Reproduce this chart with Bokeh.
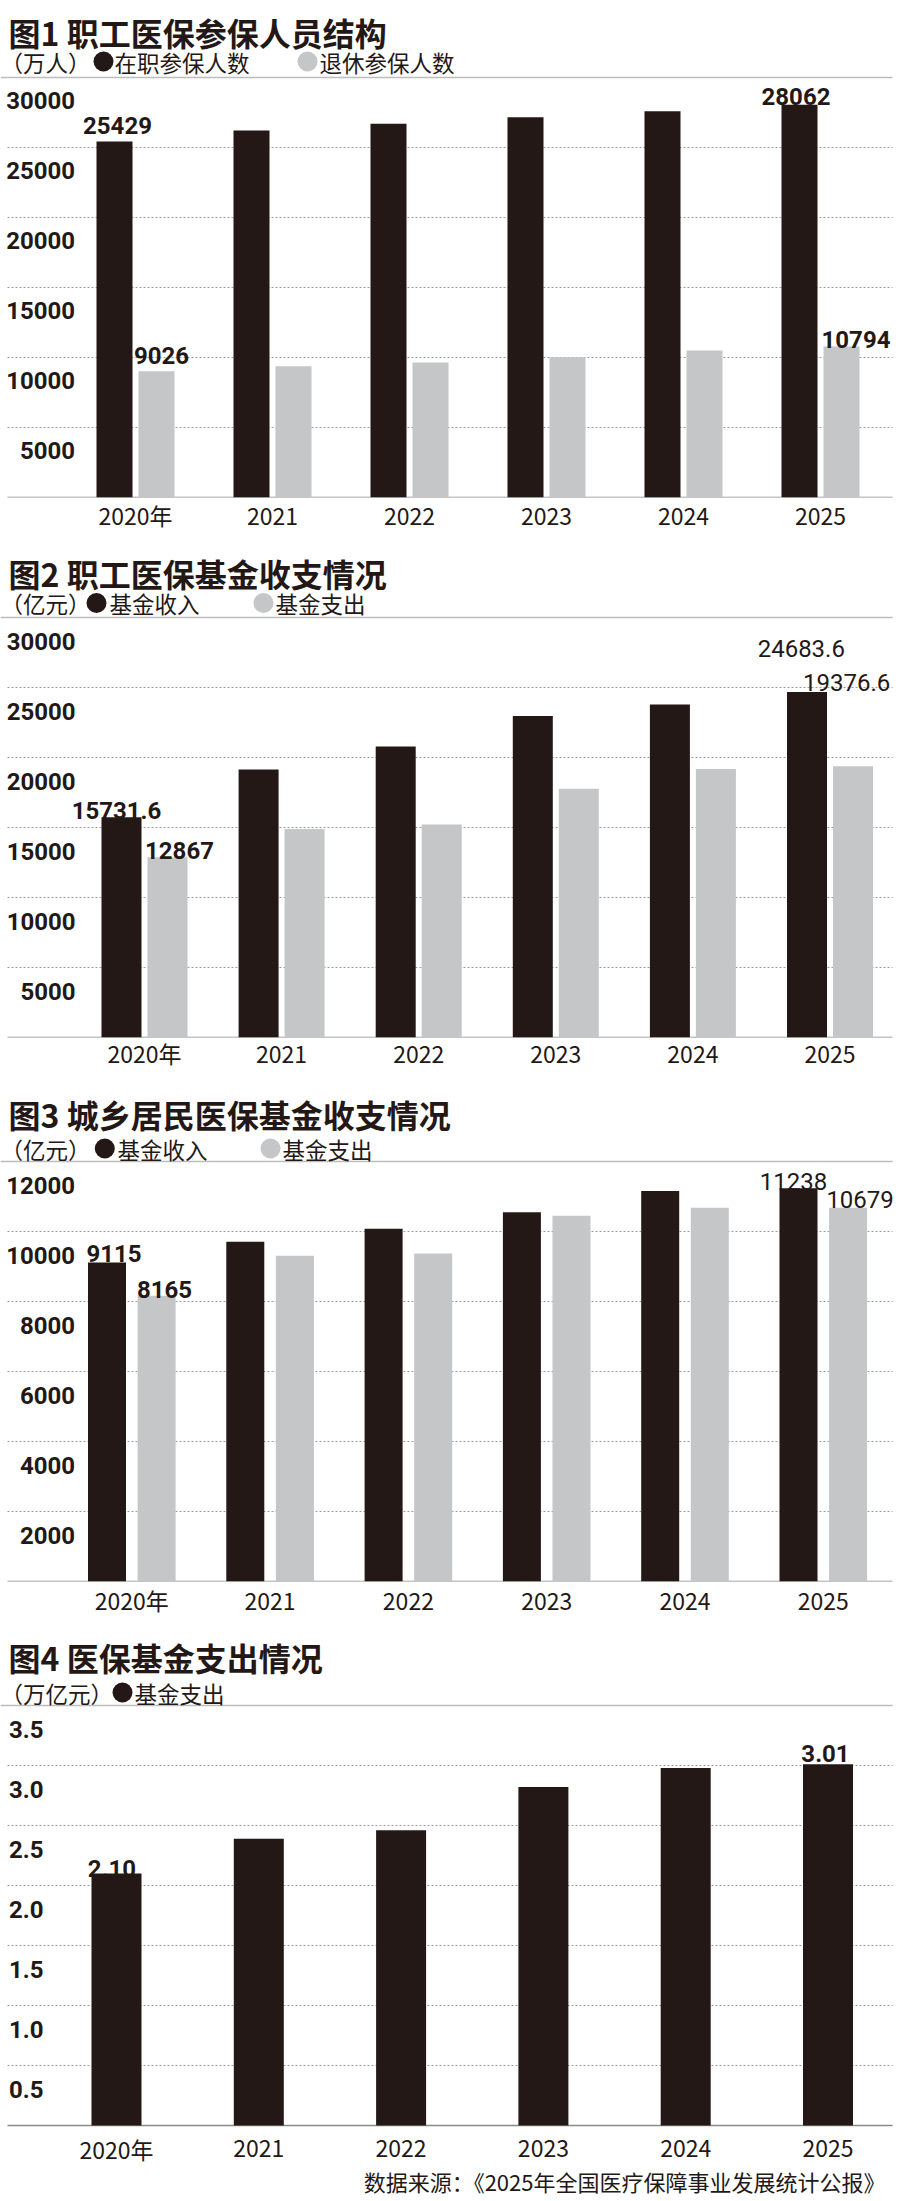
from bokeh.plotting import figure
from bokeh.models import Range1d, FixedTicker
from bokeh.layouts import column
from bokeh.embed import file_html
from bokeh.resources import INLINE
from bokeh.core.properties import value
from bokeh.transform import dodge

# ---------------- data ----------------
years = ["2020年", "2021", "2022", "2023", "2024", "2025"]

# 图1 职工医保参保人员结构 (万人)
c1_active = [25429, 26220, 26700, 27160, 27590, 28062]
c1_retired = [9026, 9380, 9645, 10010, 10500, 10794]
c1_ticks = [5000, 10000, 15000, 20000, 25000, 30000]
c1_tick_labels = ["5000", "10000", "15000", "20000", "25000", "30000"]

# 图2 职工医保基金收支情况 (亿元)
c2_income = [15731.6, 19140, 20790, 22960, 23790, 24683.6]
c2_expense = [12867, 14890, 15210, 17760, 19170, 19376.6]
c2_ticks = [5000, 10000, 15000, 20000, 25000, 30000]
c2_tick_labels = ["5000", "10000", "15000", "20000", "25000", "30000"]

# 图3 城乡居民医保基金收支情况 (亿元)
c3_income = [9115, 9710, 10080, 10550, 11160, 11238]
c3_expense = [8165, 9310, 9370, 10450, 10680, 10679]
c3_ticks = [2000, 4000, 6000, 8000, 10000, 12000]
c3_tick_labels = ["2000", "4000", "6000", "8000", "10000", "12000"]

# 图4 医保基金支出情况 (万亿元)
c4_expense = [2.10, 2.39, 2.46, 2.82, 2.98, 3.01]
c4_ticks = [0.5, 1.0, 1.5, 2.0, 2.5, 3.0, 3.5]
c4_tick_labels = ["0.5", "1.0", "1.5", "2.0", "2.5", "3.0", "3.5"]

source_note = "数据来源：《2025年全国医疗保障事业发展统计公报》"

# ---------------- style ----------------
INK = "#231815"
GRAY = "#c5c6c8"
CJK = "Noto Sans CJK SC"
NUM = "Roboto"
idx = list(range(len(years)))


class Chart:
    """One chart panel. Page-pixel layout constants -> data coordinates."""

    def __init__(self, F, H, top_px, base_px, ymax, c0_px, spacing, bottom, axis=True, standoff=0):
        self.F, self.H, self.top_px, self.base_px = F, H, top_px, base_px
        self.ymax, self.c0_px, self.spacing = ymax, c0_px, spacing
        self.u = ymax / (base_px - top_px)
        frame_bottom = F + H - bottom
        ys = -(frame_bottom - base_px) * self.u
        ye = (base_px - F) * self.u
        xs = -c0_px / spacing
        xe = xs + 900 / spacing
        p = figure(width=900, height=H, x_range=Range1d(xs, xe), y_range=Range1d(ys, ye),
                   output_backend="svg", toolbar_location=None, title=None,
                   y_axis_location=None, x_axis_location="below" if axis else None,
                   min_border_left=0, min_border_right=0, min_border_top=0,
                   min_border_bottom=bottom)
        p.outline_line_color = None
        p.background_fill_color = "white"
        p.border_fill_color = "white"
        p.grid.visible = False
        if axis:
            ax = p.xaxis[0]
            ax.ticker = FixedTicker(ticks=idx)
            ax.major_label_overrides = {i: y for i, y in zip(idx, years)}
            ax.major_tick_line_color = None
            ax.minor_tick_line_color = None
            ax.major_tick_out = 0
            ax.axis_line_color = None
            ax.major_label_text_font = CJK
            ax.major_label_text_font_size = "23px"
            ax.major_label_text_color = INK
            ax.major_label_standoff = standoff
        self.p = p

    def xd(self, px):
        return (px - self.c0_px) / self.spacing

    def yd(self, py):
        return (self.base_px - py) * self.u

    def frame_lines(self, ticks, tick_labels, label_right, drop):
        p = self.p
        inner = [t for t in ticks if t < self.ymax]
        n = len(inner)
        p.segment(x0=[self.xd(7)] * n, x1=[self.xd(892)] * n, y0=inner, y1=inner,
                  line_color="#9c9c9c", line_width=1, line_dash="2 2")
        p.segment(x0=[self.xd(0)], x1=[self.xd(892)], y0=[self.ymax], y1=[self.ymax],
                  line_color="#bdbdbd", line_width=1.5)
        p.segment(x0=[self.xd(7)], x1=[self.xd(892)], y0=[0], y1=[0],
                  line_color="#8a8a8a", line_width=1.5)
        p.text(x=[self.xd(label_right)] * len(ticks), y=ticks, text=tick_labels,
               y_offset=drop, text_align="right", text_baseline="alphabetic",
               text_font=value(NUM), text_font_style="bold", text_font_size="24px",
               text_color=INK)

    def cjk(self, px, py, text, size, style="normal", align="left"):
        self.p.text(x=[self.xd(px)], y=[self.yd(py)], text=[text], text_font=value(CJK),
                    text_font_style=style, text_font_size=f"{size}px", text_align=align,
                    text_baseline="middle", text_color=INK)

    def header(self, title, title_py, unit, leg_py, items):
        self.cjk(8, title_py, title, 32, style="bold")
        self.cjk(0, leg_py, unit, 22.5)
        for dot_cx, color, text_x, text in items:
            self.p.scatter(x=[self.xd(dot_cx)], y=[self.yd(leg_py)], size=20, marker="circle",
                           fill_color=color, line_color=None)
            self.cjk(text_x, leg_py, text, 22.5)


def value_label(p, x, y, text, dx, dy, style="bold"):
    p.text(x=[x], y=[y], text=[text], x_offset=dx, y_offset=dy,
           text_align="center", text_baseline="alphabetic",
           text_font=value(NUM), text_font_style=style, text_font_size="24px",
           text_color=INK)


# ---------------- chart 1 ----------------
ch1 = Chart(F=0, H=540, top_px=77, base_px=497, ymax=30000, c0_px=135, spacing=137,
            bottom=43, standoff=0)
ch1.frame_lines(c1_ticks, c1_tick_labels, 74.5, 23)
ch1.header("图1 职工医保参保人员结构", 31.5, "（万人）", 61,
           [(103, INK, 114, "在职参保人数"), (307, GRAY, 319, "退休参保人数")])
p1 = ch1.p
bw1, off1 = 36 / 137, 21 / 137
src1 = dict(x=idx, a=c1_active, b=c1_retired)
p1.vbar(x=dodge("x", -off1), top="a", width=bw1, source=src1, fill_color=INK, line_color=None)
p1.vbar(x=dodge("x", off1), top="b", width=bw1, source=src1, fill_color=GRAY, line_color=None)
value_label(p1, idx[0] - off1, c1_active[0], f"{c1_active[0]}", 3, -16)
value_label(p1, idx[0] + off1, c1_retired[0], f"{c1_retired[0]}", 5, -16)
value_label(p1, idx[-1] - off1, c1_active[-1], f"{c1_active[-1]}", -3.5, -8)
value_label(p1, idx[-1] + off1, c1_retired[-1], f"{c1_retired[-1]}", 14.5, -7)

# ---------------- chart 2 ----------------
ch2 = Chart(F=540, H=545, top_px=617, base_px=1037, ymax=30000, c0_px=144, spacing=137.1,
            bottom=48, standoff=-2)
ch2.frame_lines(c2_ticks, c2_tick_labels, 75, 24)
ch2.header("图2 职工医保基金收支情况", 572.5, "（亿元）", 602.5,
           [(96, INK, 109, "基金收入"), (263, GRAY, 275, "基金支出")])
p2 = ch2.p
bw2, off2 = 40 / 137.1, 23 / 137.1
src2 = dict(x=idx, a=c2_income, b=c2_expense)
p2.vbar(x=dodge("x", -off2), top="a", width=bw2, source=src2, fill_color=INK, line_color=None)
p2.vbar(x=dodge("x", off2), top="b", width=bw2, source=src2, fill_color=GRAY, line_color=None)
value_label(p2, idx[0] - off2, c2_income[0], f"{c2_income[0]:g}", -5, -6.5)
value_label(p2, idx[0] + off2, c2_expense[0], f"{c2_expense[0]:g}", 12, -6.6)
value_label(p2, idx[-1] - off2, c2_income[-1], f"{c2_income[-1]:g}", -5.7, -43, style="normal")
value_label(p2, idx[-1] + off2, c2_expense[-1], f"{c2_expense[-1]:g}", -6.3, -83.7, style="normal")

# ---------------- chart 3 ----------------
ch3 = Chart(F=1085, H=540, top_px=1161, base_px=1581, ymax=12000, c0_px=131.3, spacing=138.3,
            bottom=44, standoff=1)
ch3.frame_lines(c3_ticks, c3_tick_labels, 74.5, 23.5)
ch3.header("图3 城乡居民医保基金收支情况", 1113, "（亿元）", 1148,
           [(104.3, INK, 117, "基金收入"), (270, GRAY, 282, "基金支出")])
p3 = ch3.p
bw3, off3 = 38 / 138.3, 24.8 / 138.3
src3 = dict(x=idx, a=c3_income, b=c3_expense)
p3.vbar(x=dodge("x", -off3), top="a", width=bw3, source=src3, fill_color=INK, line_color=None)
p3.vbar(x=dodge("x", off3), top="b", width=bw3, source=src3, fill_color=GRAY, line_color=None)
value_label(p3, idx[0] - off3, c3_income[0], f"{c3_income[0]}", 7, -9)
value_label(p3, idx[0] + off3, c3_expense[0], f"{c3_expense[0]}", 8, -6)
value_label(p3, idx[-1] - off3, c3_income[-1], f"{c3_income[-1]}", -5, -6.4, style="normal")
value_label(p3, idx[-1] + off3, c3_expense[-1], f"{c3_expense[-1]}", 12, -8.7, style="normal")

# ---------------- chart 4 ----------------
ch4 = Chart(F=1625, H=576, top_px=1705, base_px=2125, ymax=3.5, c0_px=116, spacing=142.3,
            bottom=0, axis=False)
ch4.frame_lines(c4_ticks, c4_tick_labels, 43, 24)
ch4.header("图4 医保基金支出情况", 1656.7, "（万亿元）", 1692,
           [(122, INK, 134, "基金支出")])
p4 = ch4.p
bw4 = 50 / 142.3
src4 = dict(x=idx, a=c4_expense)
p4.vbar(x="x", top="a", width=bw4, source=src4, fill_color=INK, line_color=None)
value_label(p4, idx[0], c4_expense[0], f"{c4_expense[0]:.2f}", -4.5, -4.7)
value_label(p4, idx[-1], c4_expense[-1], f"{c4_expense[-1]:.2f}", -2.5, -10.4)
# category labels under the baseline
p4.text(x=idx, y=[0] * len(idx), text=years, y_offset=23.3, text_align="center",
        text_baseline="alphabetic", text_font=value(CJK), text_font_size="23px",
        text_color=INK)
# source note
p4.text(x=[ch4.xd(885)], y=[0], text=[source_note], y_offset=55.4,
        text_align="right", text_baseline="alphabetic", text_font=value(CJK),
        text_font_size="22px", text_color=INK)

layout = column(p1, p2, p3, p4, spacing=0)
open("out.html", "w").write(file_html(layout, INLINE))
